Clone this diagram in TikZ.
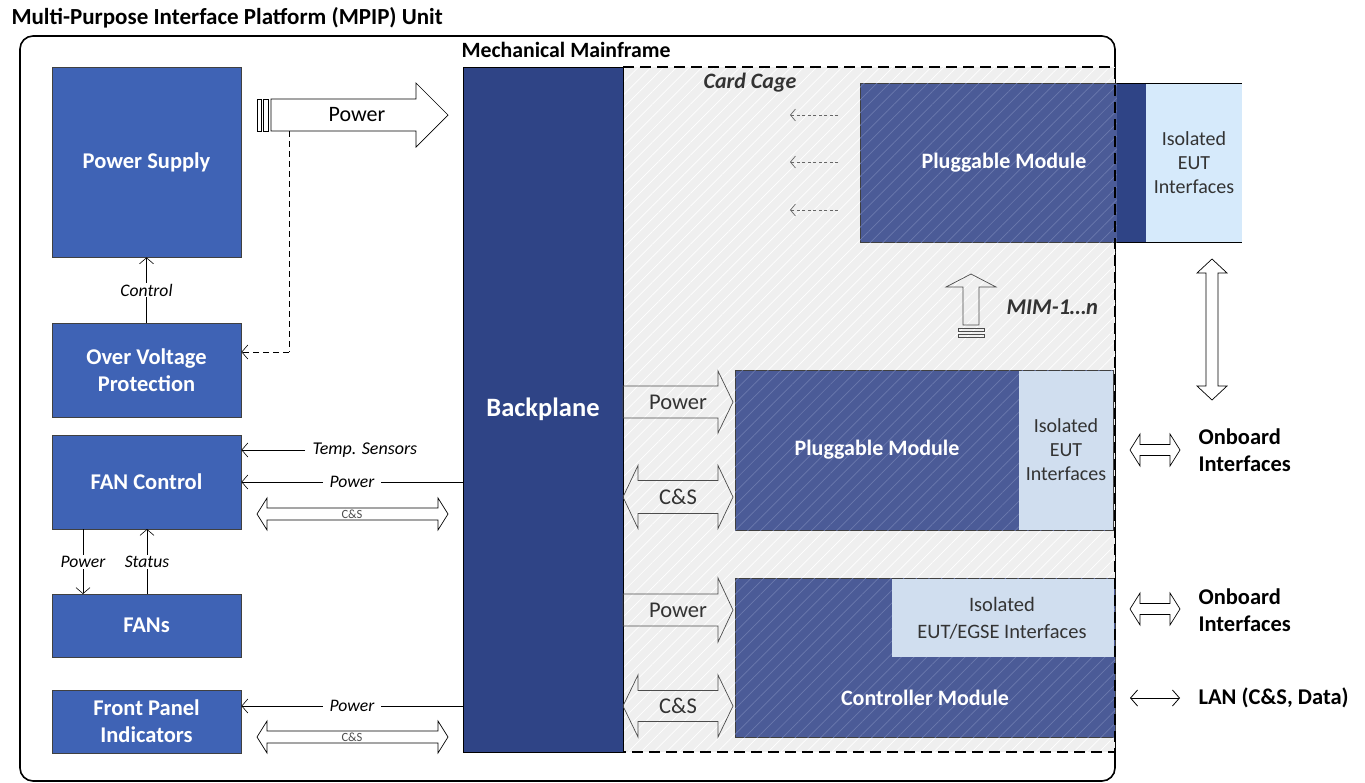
\documentclass[tikz,border=0pt]{standalone}
\usepackage{fontspec}
\setmainfont{Carlito}
\usetikzlibrary{arrows.meta,patterns.meta}
\definecolor{bpblue}{HTML}{2F4486}
\definecolor{lblue}{HTML}{3F63B5}
\definecolor{modblue}{HTML}{4B5B97}
\definecolor{modhatch}{HTML}{6B79AE}
\definecolor{cagegray}{HTML}{EFEFEF}
\definecolor{isoA}{HTML}{D6EAFB}
\definecolor{isoB}{HTML}{D0DEEF}
\definecolor{txtgray}{HTML}{333333}
\newcommand\rArrow[7]{\draw[#1] (#2,{#4-#5}) -- ({#3-#7},{#4-#5}) -- ({#3-#7},{#4-#6}) -- (#3,#4) -- ({#3-#7},{#4+#6}) -- ({#3-#7},{#4+#5}) -- (#2,{#4+#5}) -- cycle;}
\newcommand\hdArrow[7]{\draw[#1] (#2,#4) -- ({#2+#7},{#4-#6}) -- ({#2+#7},{#4-#5}) -- ({#3-#7},{#4-#5}) -- ({#3-#7},{#4-#6}) -- (#3,#4) -- ({#3-#7},{#4+#6}) -- ({#3-#7},{#4+#5}) -- ({#2+#7},{#4+#5}) -- ({#2+#7},{#4+#6}) -- cycle;}
\newcommand\vdArrow[7]{\draw[#1] (#2,#3) -- ({#2+#6},{#3+#7}) -- ({#2+#5},{#3+#7}) -- ({#2+#5},{#4-#7}) -- ({#2+#6},{#4-#7}) -- (#2,#4) -- ({#2-#6},{#4-#7}) -- ({#2-#5},{#4-#7}) -- ({#2-#5},{#3+#7}) -- ({#2-#6},{#3+#7}) -- cycle;}
\tikzset{
  lbox/.style={draw=black!75, line width=0.8pt, fill=lblue, text=white,
    font=\bfseries\fontsize{22.5}{27}\selectfont, align=center,
    minimum width=189pt, inner sep=0pt},
  modbox/.style={draw=black!75, line width=0.9pt, fill=modblue,
    postaction={pattern={Lines[angle=45,distance=9pt,line width=0.7pt]}, pattern color=modhatch},
    inner sep=0pt},
  modtext/.style={text=white, font=\bfseries\fontsize{22}{26}\selectfont},
  isotext/.style={text=txtgray, font=\fontsize{20}{24}\selectfont, align=center},
  lab/.style={font=\itshape\fontsize{17.6}{21}\selectfont, fill=white, inner ysep=2pt, inner xsep=7pt},
  vlab/.style={font=\itshape\fontsize{17.6}{21}\selectfont, fill=white, inner ysep=1pt, inner xsep=1pt},
  barb/.style={-{Straight Barb[length=6pt,width=14pt]}, line width=0.6pt},
  blk/.style={draw=black, fill=white, line width=0.7pt, line join=miter},
  cblk/.style={draw=black!70, line width=0.7pt, line join=miter},
  arrtext/.style={font=\fontsize{22.5}{26}\selectfont, text=txtgray},
  sideText/.style={font=\bfseries\fontsize{22.5}{27}\selectfont, align=left, anchor=west}
}
\begin{document}
\begin{tikzpicture}[x=1pt,y=-1pt]
\useasboundingbox (0,0) rectangle (1365,782);
% titles and outer frame
\node[anchor=west, font=\bfseries\fontsize{23}{27}\selectfont] (title) at (8,18) {Multi-Purpose Interface Platform (MPIP) Unit};
\draw[line width=1.6pt, rounded corners=13pt, fill=white] (20,36) rectangle (1115,781);
\node[anchor=west, font=\bfseries\fontsize{21.8}{26}\selectfont] (mm) at (458,50) {Mechanical Mainframe};

% card cage
\fill[cagegray] (623,67) rectangle (1115,752);
\path[pattern={Lines[angle=45,distance=9pt,line width=0.7pt]}, pattern color=white] (623,67) rectangle (1115,752);
\node[font=\bfseries\itshape\fontsize{22}{26}\selectfont, text=txtgray] (cc) at (750,83) {Card Cage};

% backplane
\node[draw=black, line width=0.8pt, fill=bpblue, minimum width=160pt, minimum height=685pt, inner sep=0pt,
      text=white, font=\bfseries\fontsize{26.5}{30}\selectfont] (bp) at (543,409.5) {Backplane};

% left boxes
\node[lbox, minimum height=190pt] (ps) at (146.5,162) {Power Supply};
\node[lbox, minimum height=94pt] (ovp) at (146.5,370) {Over Voltage\\Protection};
\node[lbox, minimum height=94pt] (fc) at (146.5,482) {FAN Control};
\node[lbox, minimum height=63pt] (fans) at (146.5,625.5) {FANs};
\node[lbox, minimum height=63pt] (fpi) at (146.5,721.5) {Front Panel\\Indicators};

% Power block arrow at top
\rArrow{blk}{271}{448}{115}{16}{32}{32}
\node[font=\fontsize{22}{26}\selectfont] (pwrtop) at (357,115) {Power};
\draw[blk] (257,99) rectangle (261,131);
\draw[blk] (263,99) rectangle (268,131);
\coordinate (dtop) at (289,131);
\coordinate (dcorner) at (289,352);
\draw[line width=0.7pt, dash pattern=on 6pt off 4pt] (dtop) -- (dcorner);
\draw[barb, dash pattern=on 6pt off 4pt] (dcorner) -- (ovp.east |- dcorner);

% Control
\draw[barb] (ovp.north) -- (ps.south);
\node[vlab] (ctl) at (146.5,290) {Control};

% FAN Control inputs
\coordinate (ts) at (305,450);
\draw[barb] (ts) -- (fc.east |- ts);
\node[font=\itshape\fontsize{18}{21}\selectfont, anchor=west] (tslab) at (309,450) {Temp. Sensors};
\draw[barb] (bp.west |- fc.east) -- (fc.east);
\node[lab] (fcp) at (352,482) {Power};
\hdArrow{blk}{257}{448}{514}{6}{16}{10}
\node[font=\fontsize{12.5}{14}\selectfont, text=black!70] (cs1) at (352,514) {C\&S};

% FAN Control <-> FANs
\draw[barb] (83,529) -- (83,594);
\draw[barb] (147,594) -- (147,529);
\node[vlab] (fp) at (83,562) {Power};
\node[vlab] (fs) at (147,562) {Status};

% Front panel
\draw[barb] (bp.west |- 0,706) -- (fpi.east |- 0,706);
\node[lab] (fpp) at (352,706) {Power};
\hdArrow{blk}{257}{448}{737}{6}{16}{10}
\node[font=\fontsize{12.5}{14}\selectfont, text=black!70] (cs2) at (352,737) {C\&S};

% top pluggable module
\node[modbox, minimum width=257pt, minimum height=159pt] (tm) at (988.5,162.5) {};
\fill[bpblue] (1117,83) rectangle (1146,242);
\fill[isoA] (1146,83) rectangle (1242,242);
\draw[line width=1pt] (1117,83) -- (1242,83);
\draw[line width=1pt] (1117,242) -- (1242,242);
\node[modtext] (tmt) at (1004,163) {Pluggable Module};
\node[isotext] (tmi) at (1194,163) {Isolated\\EUT\\Interfaces};
\foreach \yy in {115,162,210} {
  \draw[-{Straight Barb[length=5pt,width=12pt]}, black!60, line width=0.7pt, dash pattern=on 3pt off 2.5pt] (838,\yy) -- (790,\yy);
}

% MIM arrow
\draw[cblk, fill=none] (963,325) -- (963,287) -- (946,287) -- (971,274) -- (996,287) -- (979,287) -- (979,325) -- cycle;
\draw[cblk] (958,328) rectangle (984,331);
\draw[cblk] (958,334) rectangle (984,337);
\node[font=\bfseries\itshape\fontsize{22.5}{26}\selectfont, text=txtgray, anchor=west] (mim) at (1003,307) {MIM-1\ldots n};

% vertical double arrow
\vdArrow{blk}{1212}{259}{400}{6}{15}{14}

% middle pluggable module
\node[modbox, minimum width=378pt, minimum height=160pt] (pm) at (924,450) {};
\fill[isoB] (1019,370.5) rectangle (1112.5,529.5);
\node[modtext] (pmt) at (877,450) {Pluggable Module};
\node[isotext] (pmi) at (1066,450) {Isolated\\EUT\\Interfaces};
\rArrow{cblk}{623}{733}{402}{16}{31}{15}
\node[arrtext] (pw1) at (678,402) {Power};
\hdArrow{cblk}{623}{733}{497}{16.5}{31.5}{15}
\node[arrtext] (cs3) at (678,497) {C\&S};

% controller module
\node[modbox, minimum width=380pt, minimum height=159pt] (cm) at (925,657.5) {};
\fill[isoB] (892,578.5) rectangle (1114,657);
\node[isotext, font=\fontsize{20.5}{27}\selectfont] (cmi) at (1002,618) {Isolated\\EUT/EGSE Interfaces};
\node[modtext] (cmt) at (925,698) {Controller Module};
\rArrow{cblk}{623}{733}{610}{16}{32}{15}
\node[arrtext] (pw2) at (678,610) {Power};
\hdArrow{cblk}{623}{733}{706}{15.5}{31}{15}
\node[arrtext] (cs4) at (678,706) {C\&S};

% card cage dashed border
\draw[line width=1.6pt, dash pattern=on 11pt off 6pt] (623,67) -- (1115,67) -- (1115,752) -- (623,752);

% right side
\hdArrow{blk}{1130}{1180}{450}{5.5}{16}{10}
\node[sideText] (ob1) at (1195,450) {Onboard\\Interfaces};
\hdArrow{blk}{1130}{1180}{609}{5.5}{16}{10}
\node[sideText] (ob2) at (1195,610) {Onboard\\Interfaces};
\coordinate (lanL) at (1130,698);
\coordinate (lanR) at (1180,698);
\draw[{Straight Barb[length=7pt,width=16pt]}-{Straight Barb[length=7pt,width=16pt]}, line width=0.8pt] (lanL) -- (lanR);
\node[sideText] (lan) at (1195,698) {LAN (C\&S, Data)};
\end{tikzpicture}
\end{document}
